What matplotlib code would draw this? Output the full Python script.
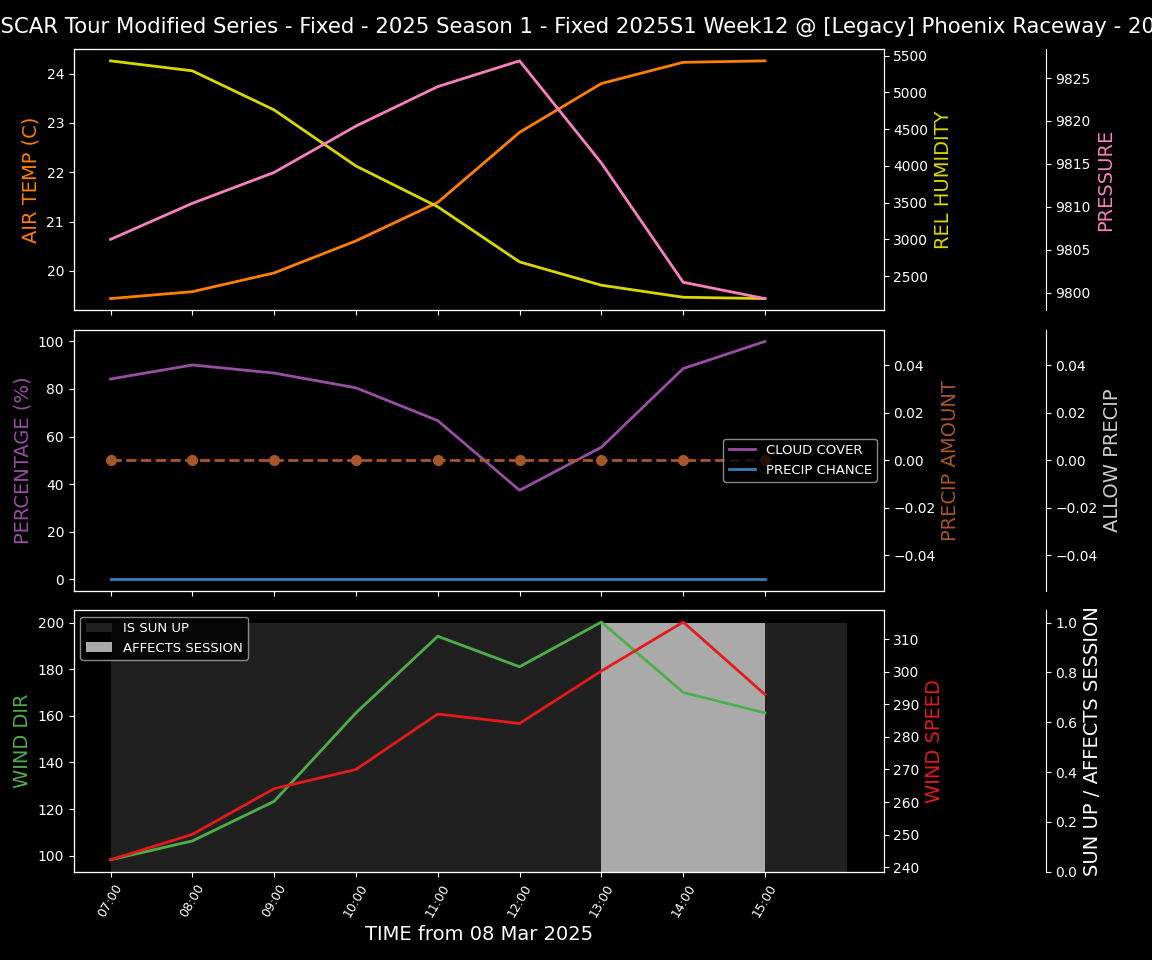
import pandas as pd
import matplotlib
matplotlib.use('Agg')
import matplotlib.pyplot as plt
import matplotlib.dates as mdates

# hourly forecast, 08 Mar 2025
times = pd.date_range('2025-03-08 07:00', periods=9, freq='h')
air_temp = [19.44, 19.58, 19.96, 20.61, 21.39, 22.81, 23.80, 24.23, 24.26]
rel_humidity = [5428, 5292, 4760, 3997, 3442, 2692, 2375, 2211, 2193]
pressure = [9806.2, 9810.4, 9814.0, 9819.4, 9824.0, 9827.0, 9815.1, 9801.2, 9799.3]
cloud_cover = [84.2, 90.1, 86.7, 80.5, 66.7, 37.4, 55.5, 88.6, 100.0]
precip_chance = [0, 0, 0, 0, 0, 0, 0, 0, 0]
precip_amount = [0, 0, 0, 0, 0, 0, 0, 0, 0]
allow_precip = [0, 0, 0, 0, 0, 0, 0, 0, 0]
wind_dir = [98.2, 106.3, 123.3, 161.3, 194.2, 181.1, 200.3, 170.1, 161.3]
wind_speed = [242.3, 250.1, 264.1, 270.0, 287.0, 284.1, 300.2, 315.2, 293.0]
sun_up = [1, 1, 1, 1, 1, 1, 1, 1, 1]
affects_session = [0, 0, 0, 0, 0, 0, 1, 1, 0]

title = ('NASCAR Tour Modified Series - Fixed - 2025 Season 1 - Fixed 2025S1 Week12 '
         '@ [Legacy] Phoenix Raceway - 2008')

plt.style.use('dark_background')
fig, axs = plt.subplots(3, 1, figsize=(11.52, 9.6), dpi=100, sharex=True)
fig.subplots_adjust(left=0.064, right=0.767, top=0.949, bottom=0.092, hspace=0.073)
fig.suptitle(title, fontsize=15.3, y=0.982)

lw = 2
lab = 14

def add_axes(ax):
    tw = ax.twinx()
    p2 = ax.twinx()
    p2.spines['right'].set_position(('axes', 1.2))
    return tw, p2

#row 1 - temp / humidity / pressure
ax = axs[0]
tw, p2 = add_axes(ax)
ax.plot(times, air_temp, color='#ff7f00', lw=lw)
tw.plot(times, rel_humidity, color='#d8d800', lw=lw)
p2.plot(times, pressure, color='#f781bf', lw=lw)
ax.set_ylabel('AIR TEMP (C)', color='#ff7f00', fontsize=lab)
tw.set_ylabel('REL HUMIDITY', color='#d8d800', fontsize=lab)
p2.set_ylabel('PRESSURE', color='#f781bf', fontsize=lab)

#row 2 - clouds / precip
ax = axs[1]
tw, p2 = add_axes(ax)
l1, = ax.plot(times, cloud_cover, color='#984ea3', lw=lw, label='CLOUD COVER')
l2, = ax.plot(times, precip_chance, color='#377eb8', lw=lw, label='PRECIP CHANCE')
tw.plot(times, precip_amount, color='#a65628', lw=lw, ls='--', marker='o', markersize=7)
p2.plot(times, allow_precip, ls='None')
ax.set_ylabel('PERCENTAGE (%)', color='#984ea3', fontsize=lab)
tw.set_ylabel('PRECIP AMOUNT', color='#a65628', fontsize=lab)
p2.set_ylabel('ALLOW PRECIP', color='#cccccc', fontsize=lab)
p2.legend(handles=[l1, l2], loc='center right', edgecolor='#aaaaaa', facecolor='black',
          fontsize=9.5)

#row 3 - wind / sun
ax = axs[2]
tw, p2 = add_axes(ax)
p2.bar(times, sun_up, width=1 / 24, align='edge', color='#202020', label='IS SUN UP')
p2.bar(times, affects_session, width=1 / 24, align='edge', color='#aaaaaa', label='AFFECTS SESSION')
ax.plot(times, wind_dir, color='#4daf4a', lw=lw)
tw.plot(times, wind_speed, color='#e41a1c', lw=lw)
p2.set_zorder(1)
ax.set_zorder(2)
tw.set_zorder(3)
ax.patch.set_visible(False)
tw.patch.set_visible(False)
ax.set_ylabel('WIND DIR', color='#4daf4a', fontsize=lab)
tw.set_ylabel('WIND SPEED', color='#e41a1c', fontsize=lab)
p2.set_ylabel('SUN UP / AFFECTS SESSION', color='white', fontsize=lab)
p2.legend(loc='upper left', edgecolor='#aaaaaa', facecolor='black', fontsize=9.5)

axs[2].set_xticks(times)
axs[2].xaxis.set_major_formatter(mdates.DateFormatter('%H:%M'))
plt.setp(axs[2].get_xticklabels(), rotation=60, fontsize=9)
axs[2].set_xlabel('TIME from 08 Mar 2025', fontsize=14)

fig.savefig('out.png', dpi=100, facecolor='black')
